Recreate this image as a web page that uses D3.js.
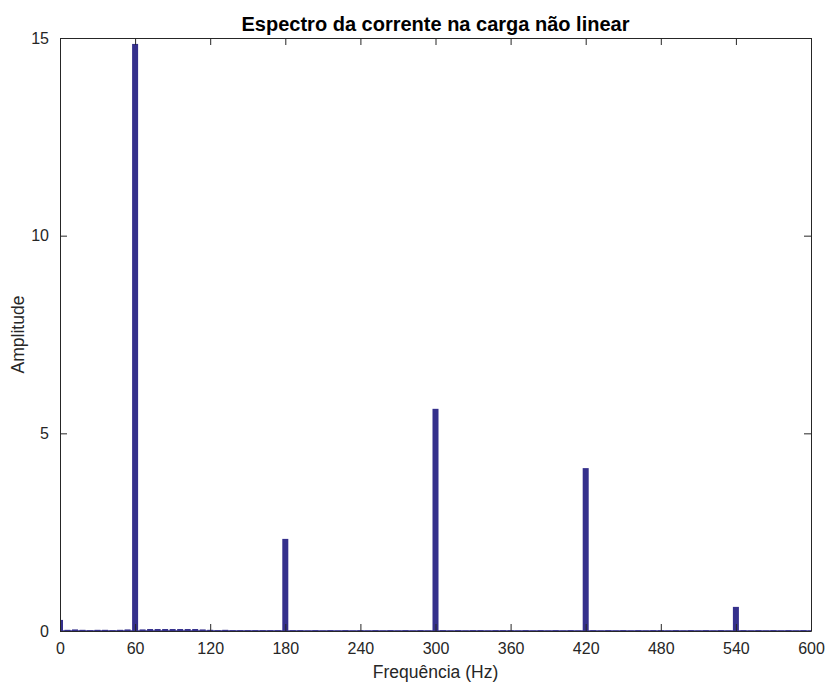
<!DOCTYPE html>
<html>
<head>
<meta charset="utf-8">
<script src="https://cdn.jsdelivr.net/npm/d3@7"></script>
<style>
body{margin:0;background:#fff;}
svg{display:block;font-family:"Liberation Sans",Arial,Helvetica,sans-serif;}
</style>
</head>
<body>
<svg id="chart" width="825" height="684"></svg>
<script>
// Frequency bins (Hz), 6 Hz resolution
const binStep = 6;
const frequencies = d3.range(0, 601, binStep);
// Amplitude per bin
const amplitudes = [
  0.28, 0.03, 0.04, 0.03, 0.02, 0.03, 0.03, 0.02, 0.03, 0.04,
  14.85, 0.04, 0.05, 0.05, 0.05, 0.05, 0.05, 0.05, 0.05, 0.04,
  0.03, 0.02, 0.03, 0.02, 0.02, 0.02, 0.02, 0.02, 0.02, 0.02,
  2.33, 0.02, 0.02, 0.01, 0.02, 0.01, 0.02, 0.01, 0.02, 0.01,
  0.02, 0.01, 0.02, 0.01, 0.02, 0.01, 0.02, 0.01, 0.02, 0.01,
  5.62, 0.02, 0.01, 0.02, 0.01, 0.02, 0.02, 0.01, 0.02, 0.02,
  0.02, 0.01, 0.02, 0.01, 0.02, 0.01, 0.02, 0.01, 0.02, 0.01,
  4.12, 0.02, 0.01, 0.02, 0.01, 0.02, 0.01, 0.02, 0.01, 0.02,
  0.02, 0.01, 0.02, 0.01, 0.02, 0.01, 0.02, 0.01, 0.02, 0.01,
  0.61, 0.02, 0.01, 0.02, 0.01, 0.02, 0.01, 0.02, 0.01, 0.02,
  0.01
];
const xTicks = [0, 60, 120, 180, 240, 300, 360, 420, 480, 540, 600];
const yTicks = [0, 5, 10, 15];
const titleText = "Espectro da corrente na carga não linear";
const xLabel = "Frequência (Hz)";
const yLabel = "Amplitude";

(function () {
const svg = d3.select("#chart");
const margin = {left: 60, right: 14, top: 38, bottom: 53};
const W = 825, H = 684;
const x = d3.scaleLinear().domain([0, 600]).range([margin.left, W - margin.right]);
const y = d3.scaleLinear().domain([0, 15]).range([H - margin.bottom, margin.top]);
const axisColor = "#262626";
const barColor = "#35308c";
const barW = 0.8 * binStep;

svg.append("defs").append("clipPath").attr("id", "clip")
  .append("rect").attr("x", x(0)).attr("y", y(15))
  .attr("width", x(600) - x(0)).attr("height", y(0) - y(15));

const data = frequencies.map((f, i) => ({f, a: amplitudes[i]}));

const g = svg.append("g").attr("clip-path", "url(#clip)");
g.selectAll("rect.bar").data(data).enter().append("rect")
  .attr("class", "bar")
  .attr("x", d => x(d.f - barW / 2))
  .attr("width", d => x(d.f + barW / 2) - x(d.f - barW / 2))
  .attr("y", d => y(d.a))
  .attr("height", d => y(0) - y(d.a))
  .attr("fill", barColor);

// baseline
g.append("line").attr("x1", x(0)).attr("x2", x(600))
  .attr("y1", y(0)).attr("y2", y(0))
  .attr("stroke", barColor).attr("stroke-width", 1.5);

// axes
const tickLen = 7;
const axB = svg.append("g").attr("transform", `translate(0,${y(0)})`)
  .call(d3.axisBottom(x).tickValues(xTicks).tickSizeInner(-tickLen).tickSizeOuter(0).tickPadding(tickLen + 5));
const axT = svg.append("g").attr("transform", `translate(0,${y(15)})`)
  .call(d3.axisTop(x).tickValues(xTicks).tickSizeInner(-tickLen).tickSizeOuter(0).tickFormat(""));
const axL = svg.append("g").attr("transform", `translate(${x(0)},0)`)
  .call(d3.axisLeft(y).tickValues(yTicks).tickSizeInner(-tickLen).tickSizeOuter(0).tickPadding(tickLen + 4));
const axR = svg.append("g").attr("transform", `translate(${x(600)},0)`)
  .call(d3.axisRight(y).tickValues(yTicks).tickSizeInner(-tickLen).tickSizeOuter(0).tickFormat(""));

[axB, axT, axL, axR].forEach(a => {
  a.select(".domain").attr("stroke", axisColor).attr("stroke-width", 1);
  a.selectAll(".tick line").attr("stroke", axisColor).attr("stroke-width", 1);
  a.selectAll(".tick text").attr("fill", axisColor)
    .style("font-size", "16px").style("font-family", '"Liberation Sans",Arial,sans-serif');
});

svg.append("text").attr("x", (x(0) + x(600)) / 2).attr("y", 31)
  .attr("text-anchor", "middle").attr("fill", "#000")
  .style("font-size", "20px").style("font-weight", "bold")
  .text(titleText);

svg.append("text").attr("x", (x(0) + x(600)) / 2).attr("y", 678)
  .attr("text-anchor", "middle").attr("fill", axisColor)
  .style("font-size", "17.5px").text(xLabel);

svg.append("text")
  .attr("transform", `translate(24,${(y(0) + y(15)) / 2}) rotate(-90)`)
  .attr("text-anchor", "middle").attr("fill", axisColor)
  .style("font-size", "17.5px").text(yLabel);
})();
</script>
</body>
</html>
